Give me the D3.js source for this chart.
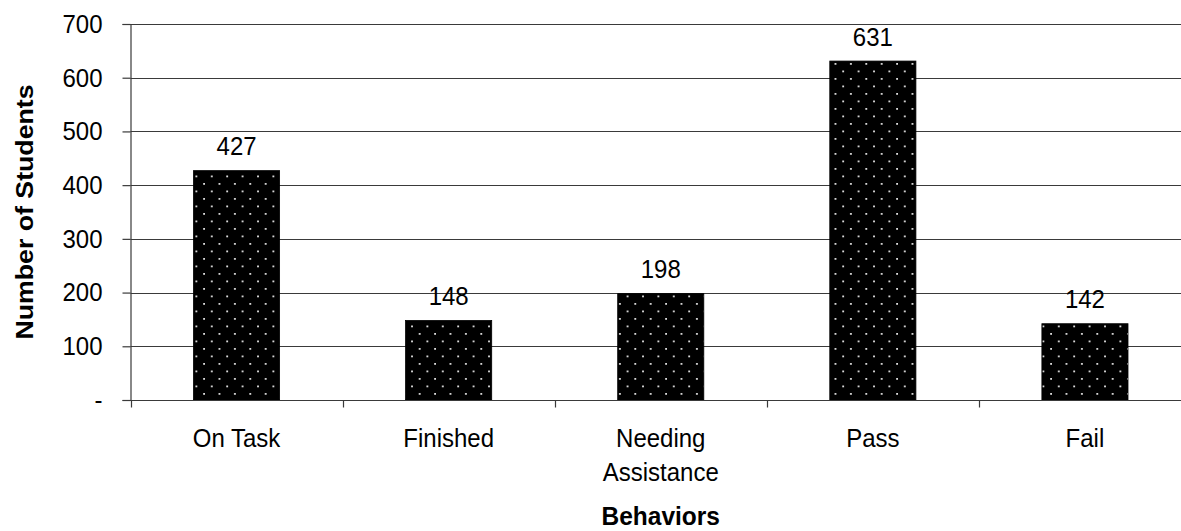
<!DOCTYPE html>
<html>
<head>
<meta charset="utf-8">
<script src="https://cdn.jsdelivr.net/npm/d3@7/dist/d3.min.js"></script>
<style>
  html, body { margin: 0; padding: 0; background: #fff; }
  svg { display: block; font-family: Arial, "Liberation Sans", sans-serif; }
</style>
</head>
<body>
<svg id="chart" width="1181" height="531"></svg>
<script>
// Student counts per observed behavior
const categories = [["On Task"], ["Finished"], ["Needing", "Assistance"], ["Pass"], ["Fail"]];
const values = [427, 148, 198, 631, 142];
const yTicks = [0, 100, 200, 300, 400, 500, 600, 700];
const yTitle = "Number of Students";
const xTitle = "Behaviors";

(function () {
const svg = d3.select("#chart");
const plotLeft = 130.5, plotRight = 1191, plotTop = 24, plotBottom = 400;
const textStretch = 1.09; // glyphs are drawn slightly taller than wide

const names = categories.map(c => c.join(" "));
const x = d3.scaleBand().domain(names).range([plotLeft, plotRight])
  .paddingInner(0.594).paddingOuter(0.297);
const y = d3.scaleLinear().domain([0, 700]).range([plotBottom, plotTop]);

// dotted fill for the bars
const defs = svg.append("defs");
const pat = defs.append("pattern").attr("id", "dots")
  .attr("patternUnits", "userSpaceOnUse").attr("width", 15.4).attr("height", 15)
  .attr("x", 0).attr("y", 0);
pat.append("rect").attr("width", 15.4).attr("height", 15).attr("fill", "#000");
pat.append("rect").attr("x", 3).attr("y", 3).attr("width", 1.8).attr("height", 1.8).attr("fill", "#e0e0e0");
pat.append("rect").attr("x", 10.7).attr("y", 10.5).attr("width", 1.8).attr("height", 1.8).attr("fill", "#e0e0e0");

// horizontal gridlines
svg.append("g").selectAll("line").data(yTicks.filter(d => d > 0)).join("line")
  .attr("x1", plotLeft).attr("x2", plotRight)
  .attr("y1", d => Math.round(y(d)) + 0.5).attr("y2", d => Math.round(y(d)) + 0.5)
  .attr("stroke", "#3a3a3a").attr("stroke-width", 1.2);

// bars
svg.append("g").selectAll("rect").data(values).join("rect")
  .attr("x", (d, i) => x(names[i]))
  .attr("y", d => y(d))
  .attr("width", x.bandwidth())
  .attr("height", d => y(0) - y(d))
  .attr("fill", "url(#dots)")
  .attr("stroke", "#000").attr("stroke-width", 0.8);

// value labels
svg.append("g").selectAll("text").data(values).join("text")
  .attr("transform", (d, i) => `translate(${x(names[i]) + x.bandwidth() / 2},${y(d) - 15.5}) scale(1,${textStretch})`)
  .attr("text-anchor", "middle")
  .attr("font-size", 24).attr("fill", "#000")
  .text(d => d);

// y axis
const yAxis = d3.axisLeft(y).tickValues(yTicks)
  .tickSize(8).tickPadding(20)
  .tickFormat(d => d === 0 ? "-" : d);
const gy = svg.append("g").attr("transform", `translate(${plotLeft},0)`).call(yAxis);
gy.select(".domain").attr("stroke", "#3a3a3a").attr("stroke-width", 1.2);
gy.selectAll(".tick line").attr("stroke", "#3a3a3a").attr("stroke-width", 1.2);
gy.selectAll(".tick text")
  .attr("font-size", 24).attr("font-family", "Arial, 'Liberation Sans', sans-serif").attr("fill", "#000")
  .attr("transform", `scale(1,${textStretch})`);

// x axis line with category boundary ticks
const xAxisY = Math.round(y(0)) + 0.5;
svg.append("line").attr("x1", plotLeft).attr("x2", plotRight)
  .attr("y1", xAxisY).attr("y2", xAxisY)
  .attr("stroke", "#3a3a3a").attr("stroke-width", 1.2);
const step = x.step();
const bounds = names.map(n => x(n) - x.paddingOuter() * step);
svg.append("g").selectAll("line").data(bounds).join("line")
  .attr("x1", d => Math.round(d) + 0.5).attr("x2", d => Math.round(d) + 0.5)
  .attr("y1", xAxisY).attr("y2", xAxisY + 7)
  .attr("stroke", "#3a3a3a").attr("stroke-width", 1.2);

// category labels
const cat = svg.append("g").selectAll("text").data(categories).join("text")
  .attr("transform", (d, i) => `translate(${x(names[i]) + x.bandwidth() / 2},447) scale(1,${textStretch})`)
  .attr("text-anchor", "middle")
  .attr("font-size", 24).attr("fill", "#000");
cat.selectAll("tspan").data(d => d).join("tspan")
  .attr("x", 0)
  .attr("dy", (d, i) => i === 0 ? 0 : 34 / textStretch)
  .text(d => d);

// axis titles
svg.append("text")
  .attr("transform", `translate(33,${(plotTop + plotBottom) / 2}) scale(1,${textStretch}) rotate(-90)`)
  .attr("text-anchor", "middle").attr("font-size", 24.5).attr("font-weight", "bold")
  .text(yTitle);
svg.append("text")
  .attr("transform", `translate(${(plotLeft + plotRight) / 2},525) scale(1,${textStretch})`)
  .attr("text-anchor", "middle").attr("font-size", 24.5).attr("font-weight", "bold")
  .text(xTitle);
})();
</script>
</body>
</html>
